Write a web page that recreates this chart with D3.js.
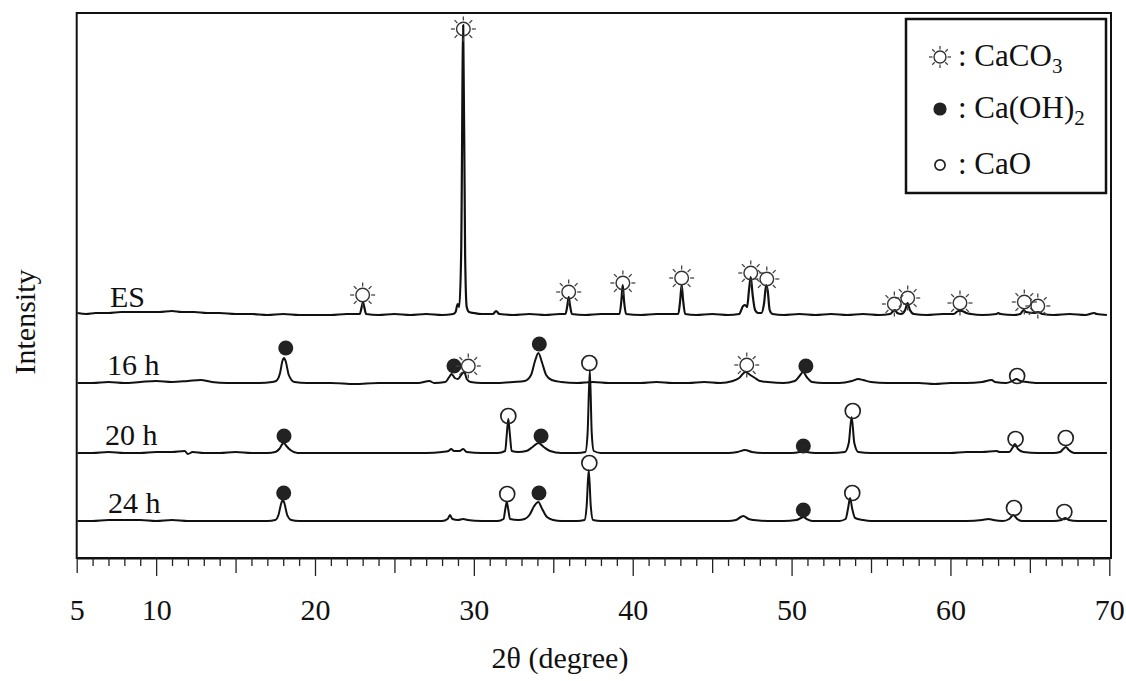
<!DOCTYPE html>
<html>
<head>
<meta charset="utf-8">
<script src="https://cdn.jsdelivr.net/npm/d3@7"></script>
<style>
  html, body { margin: 0; padding: 0; background: #fff; }
  svg { display: block; font-family: "Liberation Serif", "Times New Roman", serif; }
</style>
</head>
<body>
<div id="chart"></div>
<script>
// sample names and their vertical offsets (a.u.)
const seriesNames = ["ES", "16 h", "20 h", "24 h"];
const seriesOffsets = [243, 175, 105, 37];

// [2θ, intensity above own baseline]
const esData = [
  [5.05,2],[5.6,1],[6.2,2],[7.0,2],[7.8,3],[8.6,3],[9.4,3],[10.2,3],[11,4],[11.6,3],[12.4,3],[13.2,2],[14,2],[15,1],[16,1],[17,0],[18,1],[19,0],[20,0],[21,0],[22,1],[22.7,1],
  [22.82,1],[22.94,8],[23.02,13],[23.1,8],[23.22,1],
  [24,0],[25,1],[26,0],[27,1],[28,0],[28.7,1],
  [28.85,3],[28.98,11],[29.08,8],[29.2,60],[29.33,290],[29.45,60],[29.55,8],[29.7,3],[30,2],[30.5,1],
  [31.2,1],[31.4,4],[31.6,1],[32.5,0],[33.5,1],[34.5,0],[35.4,1],
  [35.77,1],[35.89,10],[35.97,18],[36.05,10],[36.17,1],
  [37,0],[38,1],[38.9,1],
  [39.17,1],[39.29,15],[39.37,30],[39.45,15],[39.58,1],
  [40.5,0],[41.5,1],[42.6,1],
  [42.87,1],[42.99,15],[43.08,30],[43.17,15],[43.3,1],
  [44,0],[45,1],[46,0],[46.7,1],
  [46.95,9],[47.08,10],[47.2,8],[47.32,25],[47.43,38],[47.55,20],[47.7,5],[47.9,2],[48.1,2],[48.27,12],[48.4,30],[48.5,24],[48.62,5],[48.8,1],
  [49.5,0],[50.5,1],[51.5,0],[52.5,1],[53.5,0],[54.5,1],[55.5,0],[56.2,1],
  [56.4,4],[56.5,5],[56.65,2],[56.9,1],[57.15,5],[57.3,12],[57.45,5],[57.7,1],[58.5,0],[59.5,1],[60.2,1],
  [60.5,4],[60.7,4],[61.0,2],[61.3,1],[62,0],[62.9,1],[63.0,2],[63.15,1],[64,0],[64.4,1],[64.6,5],[64.75,3],[65.3,2],[65.5,3],[65.8,1],
  [66.5,0],[67.5,1],[68.5,0],[69.05,2],[69.2,1],[69.85,0]
];
const h16Data = [
  [5.05,0],[6,0],[7,1],[8,0],[9,1],[10,2],[11,1],[12,2],[12.8,3],[13.5,1],[14.5,0],[15.5,0],[16.5,0],[17.3,1],
  [17.55,2],[17.8,10],[17.95,22],[18.05,25],[18.15,22],[18.35,8],[18.7,1],
  [19.5,0],[21,0],[22.5,-1],[24,0],[25.5,0],[26.5,0],[27.2,2],[27.5,0],[28.2,1],
  [28.45,6],[28.6,9],[28.8,5],[29.0,4],[29.2,8],[29.4,11],[29.55,4],[29.8,1],
  [30.5,0],[31.5,0],[32.5,1],[33.2,2],[33.6,8],[33.85,22],[34.06,30],[34.3,20],[34.55,8],[34.9,3],[35.5,1],
  [36.5,0],[37.5,1],[38.5,0],[39.5,0],[40.5,0],[41.5,1],[42.5,0],[43.5,0],[44.5,1],[45.5,0],
  [46.3,2],[46.7,5],[47.1,11],[47.4,8],[47.7,5],[48.0,2],[48.5,1],[49.5,0],
  [50.2,2],[50.5,7],[50.72,11],[50.95,6],[51.3,1],[52,0],[53,0],[53.8,2],[54.2,4],[54.5,3],[55,1],
  [56,0],[57,0],[58,0],[59,-1],[60,0],[61,0],[62,1],[62.6,3],[62.8,1],[63.5,0],
  [63.9,2],[64.15,4],[64.4,2],[64.8,1],[65.5,0],[66.5,0],[67.5,0],[68.5,0],[69.85,0]
];
const h20Data = [
  [5.05,0],[6,0],[7,1],[8,0],[9,0],[10,1],[11,1],[11.8,2],[12.0,-1],[12.3,1],[13,0],[14,0],[15,1],[16,0],[17,0],
  [17.5,1],[17.75,4],[17.95,9],[18.05,10],[18.2,7],[18.45,3],[18.9,0],
  [20,0],[21,0],[22,0],[23,0],[24,0],[25,0],[26,0],[27,0],[28,1],
  [28.4,2],[28.57,4],[28.75,2],[29.1,2],[29.33,4],[29.55,1],[30.5,0],[31.5,0],
  [31.97,2],[32.08,20],[32.17,34],[32.26,20],[32.38,2],
  [32.8,1],[33.3,2],[33.7,6],[34.06,10],[34.4,6],[34.8,2],[35.5,0],[36.5,0],
  [37.02,1],[37.16,20],[37.3,83],[37.42,20],[37.55,2],
  [38,0],[39,0],[40,0],[41,0],[42,0],[43,0],[44,0],[45,0],[46,0],[46.6,1],[47.07,3],[47.5,1],[48.2,0],[49,0],[50,0],
  [50.5,1],[50.7,2],[50.95,1],[51.5,0],[52.5,0],
  [53.35,1],[53.6,10],[53.78,36],[53.95,10],[54.2,1],
  [55,0],[56,0],[57,0],[58,0],[59,0],[60,0],[61,1],[62,1],[62.9,2],[63.1,1],[63.7,1],
  [63.9,5],[64.06,9],[64.25,4],[64.6,1],[65.5,0],[66.5,0],
  [66.9,1],[67.1,4],[67.26,6],[67.45,3],[67.8,0],[68.5,0],[69.85,0]
];
const h24Data = [
  [5.05,0],[6,0],[7,1],[8,1],[9,1],[10,0],[11,1],[12,0],[13,0],[14,0],[15,0],[16,0],[17,0],
  [17.5,1],[17.7,6],[17.88,18],[17.97,21],[18.07,18],[18.25,6],[18.5,1],
  [19,0],[20,0],[21,0],[22,0],[23,0],[24,0],[25,0],[26,0],[27,0],[28,0],
  [28.35,2],[28.5,6],[28.65,2],[29,1],[29.33,2],[29.6,1],[30.5,0],[31.5,0],
  [31.87,2],[31.98,12],[32.07,19],[32.16,12],[32.28,2],
  [32.8,1],[33.2,2],[33.5,6],[33.8,15],[34.06,19],[34.3,12],[34.6,4],[35,1],[35.5,0],[36.5,0],
  [36.97,1],[37.1,15],[37.23,51],[37.36,15],[37.5,1],
  [38,0],[39,0],[40,0],[41,0],[42,0],[43,0],[44,0],[45,0],[46,0],[46.5,1],[46.8,4],[46.96,5],[47.3,2],[47.6,1],[48.5,0],[49.5,0],
  [50.3,1],[50.6,3],[50.75,4],[50.95,2],[51.3,0],[52,0],[53,0],
  [53.4,2],[53.55,12],[53.68,23],[53.82,12],[54.0,3],[54.5,1],
  [55,0],[56,0],[57,0],[58,0],[59,0],[60,0],[61,0],[62,1],[62.4,2],[62.7,1],[63.3,0],
  [63.7,2],[63.96,6],[64.2,2],[64.5,0],[65.5,0],[66.5,0],
  [67.0,1],[67.22,3],[67.45,1],[68,0],[69.85,0]
];
const seriesData = [esData, h16Data, h20Data, h24Data];

// phase markers: [phase, 2θ, level above own baseline]  c = CaCO3, h = Ca(OH)2, o = CaO
const esMarks = [
  ["c",23.0,20],["c",29.34,286],["c",35.97,23],["c",39.38,32],["c",43.08,37],["c",47.43,42],["c",48.44,36],
  ["c",56.47,11],["c",57.31,17],["c",60.6,12],["c",64.65,13],["c",65.5,9]
];
const h16Marks = [
  ["h",18.16,35],["h",28.75,17],["c",29.65,17],["h",34.12,39],["c",47.18,18],["h",50.9,17],["o",64.2,7]
];
const h20Marks = [
  ["h",18.05,17],["o",32.17,37],["h",34.23,17],["o",37.27,90],["h",50.74,7],["o",53.85,42],["o",64.1,14],["o",67.26,15]
];
const h24Marks = [
  ["h",18.03,28],["o",32.1,27],["h",34.1,28],["o",37.27,58],["h",50.74,11],["o",53.82,28],["o",64.0,13],["o",67.17,9]
];
const seriesMarks = [esMarks, h16Marks, h20Marks, h24Marks];

const legendKeys = ["c", "h", "o"];
const legendNames = [["CaCO", "3"], ["Ca(OH)", "2"], ["CaO", ""]];

const xLabelTicks = [5, 10, 20, 30, 40, 50, 60, 70];

const width = 1126, height = 681;
const box = { left: 76.7, top: 13, right: 1111, bottom: 558 };

const svg = d3.select("#chart").append("svg")
  .attr("width", width)
  .attr("height", height);

const x = d3.scaleLinear().domain([5, 70]).range([76.7, 1109.3]);
const y = d3.scaleLinear().domain([0, 545]).range([box.bottom, box.top]);

// frame
svg.append("rect")
  .attr("x", box.left).attr("y", box.top)
  .attr("width", box.right - box.left).attr("height", box.bottom - box.top)
  .attr("fill", "none").attr("stroke", "#111").attr("stroke-width", 2);

// x axis with 1° minor ticks
const xAxis = svg.append("g")
  .attr("transform", `translate(0,${box.bottom})`)
  .call(d3.axisBottom(x)
    .tickValues(d3.range(5, 71, 1))
    .tickSizeOuter(0)
    .tickPadding(0)
    .tickFormat(d => xLabelTicks.includes(d) ? d : ""));
xAxis.select(".domain").attr("stroke", "#111").attr("stroke-width", 2);
xAxis.selectAll(".tick line")
  .attr("stroke", "#222").attr("stroke-width", 1.3)
  .attr("y2", d => d % 10 === 0 ? 18 : d % 5 === 0 ? 15 : 8);
xAxis.selectAll(".tick text")
  .attr("y", 62).attr("dy", 0)
  .attr("font-size", 30).attr("fill", "#111")
  .attr("font-family", "Liberation Serif, serif");

// axis titles
svg.append("text")
  .attr("x", 560).attr("y", 668)
  .attr("text-anchor", "middle")
  .attr("font-size", 30).attr("fill", "#111")
  .text("2θ (degree)");
svg.append("text")
  .attr("transform", "translate(35,322) rotate(-90)")
  .attr("text-anchor", "middle")
  .attr("font-size", 30).attr("fill", "#111")
  .text("Intensity");

// traces
const line = d3.line()
  .x(d => x(d[0]))
  .y(d => y(d[1]))
  .curve(d3.curveMonotoneX);

seriesData.forEach((s, i) => {
  const off = seriesOffsets[i];
  svg.append("path")
    .datum(s.map(d => [d[0], d[1] + off]))
    .attr("d", line)
    .attr("fill", "none")
    .attr("stroke", "#111")
    .attr("stroke-width", i === 0 ? 2.2 : 2)
    .attr("stroke-linejoin", "round");
});

// sample labels
const labelX = [110, 107, 105, 108];
const labelY = [307, 375, 445, 513];
seriesNames.forEach((n, i) => {
  svg.append("text")
    .attr("x", labelX[i]).attr("y", labelY[i])
    .attr("font-size", 30).attr("fill", "#111")
    .text(n);
});

// marker drawing
function drawMark(g, type, cx, cy, scale) {
  const k = scale || 1;
  if (type === "c") {
    const s = g.append("g").attr("transform", `translate(${cx},${cy})`);
    d3.range(8).forEach(j => {
      const a = j * Math.PI / 4;
      s.append("line")
        .attr("x1", Math.cos(a) * 8.5 * k).attr("y1", Math.sin(a) * 8.5 * k)
        .attr("x2", Math.cos(a) * 12.5 * k).attr("y2", Math.sin(a) * 12.5 * k)
        .attr("stroke", "#444").attr("stroke-width", 1.3);
    });
    s.append("circle").attr("r", 6.8 * k)
      .attr("fill", "none").attr("stroke", "#333").attr("stroke-width", 1.4);
  } else if (type === "h") {
    g.append("circle").attr("cx", cx).attr("cy", cy).attr("r", 7.5 * k)
      .attr("fill", "#222");
  } else {
    g.append("circle").attr("cx", cx).attr("cy", cy).attr("r", 7.5 * k)
      .attr("fill", "none").attr("stroke", "#222").attr("stroke-width", 1.7);
  }
}

const marks = svg.append("g");
seriesMarks.forEach((ms, i) => {
  ms.forEach(m => drawMark(marks, m[0], x(m[1]), y(m[2] + seriesOffsets[i])));
});

// legend
const lg = svg.append("g");
lg.append("rect")
  .attr("x", 906).attr("y", 19).attr("width", 200).attr("height", 174)
  .attr("fill", "#fff").attr("stroke", "#111").attr("stroke-width", 2.5);
const legY = [66, 118, 174];
legendKeys.forEach((k, i) => {
  drawMark(lg, k, 940, legY[i] - 9, k === "o" ? 0.68 : 0.88);
  const t = lg.append("text")
    .attr("x", 958).attr("y", legY[i])
    .attr("font-size", 31).attr("fill", "#111")
    .text(": " + legendNames[i][0]);
  if (legendNames[i][1]) {
    t.append("tspan").attr("font-size", 21).attr("dy", 7).text(legendNames[i][1]);
  }
});
</script>
</body>
</html>
